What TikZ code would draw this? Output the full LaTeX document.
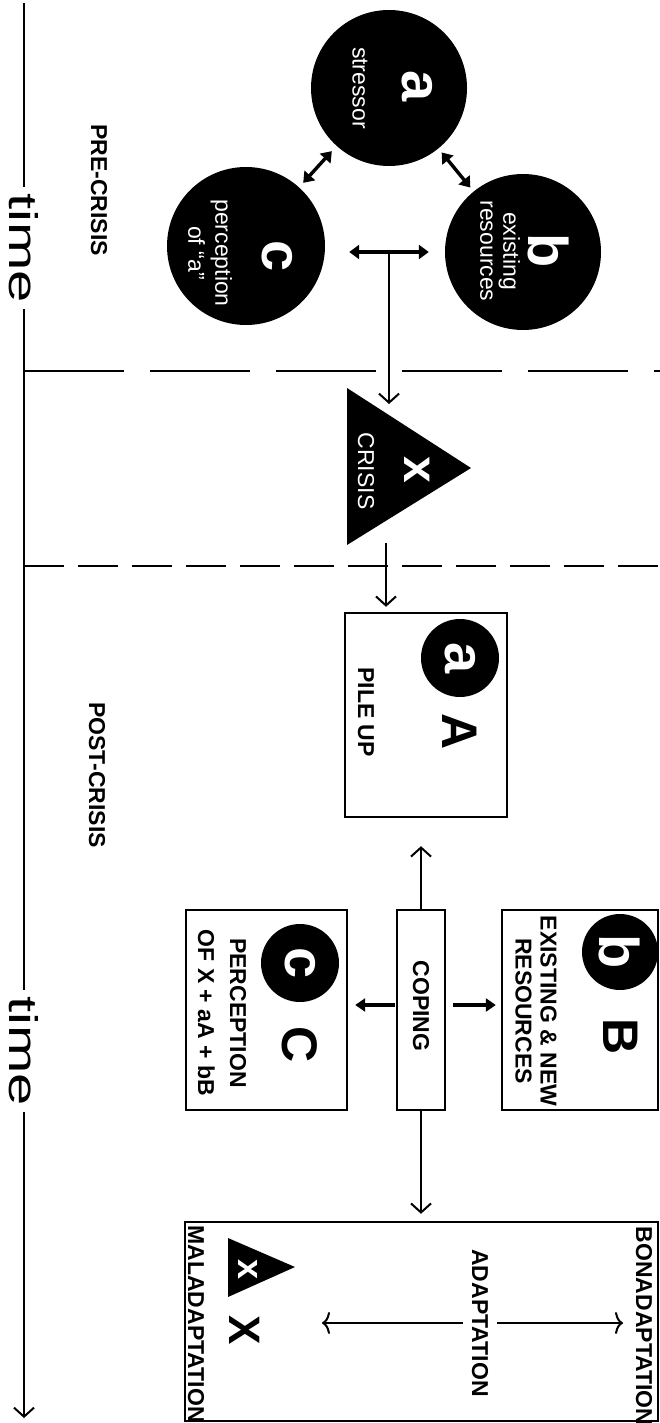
\documentclass[tikz,border=0pt]{standalone}
\usepackage{fontspec}
\setmainfont{Liberation Sans}
\usetikzlibrary{arrows.meta}
\begin{document}
\begin{tikzpicture}[x=1pt,y=-1pt,
  rt/.style={rotate=-90, inner sep=0pt},
  lab/.style={rt, font=\bfseries\fontsize{23}{26}\selectfont, align=center},
  wsmall/.style={rt, text=white, font=\fontsize{23}{25}\selectfont, align=center},
  bigw/.style={rt, text=white, font=\bfseries\fontsize{56}{56}\selectfont},
  bigk/.style={rt, font=\bfseries\fontsize{50}{50}\selectfont},
  blk/.style={circle, fill=black, inner sep=0pt},
  boxx/.style={draw, line width=2.4pt, inner sep=0pt},
  thinarr/.style={line width=2pt, -{Straight Barb[length=9pt,width=20pt,line width=2pt]}},
  dblarr/.style={line width=3.4pt, {Triangle[length=10pt,width=14pt]}-{Triangle[length=10pt,width=14pt]}},
  copearr/.style={line width=3.5pt, -{Triangle[length=10pt,width=13pt]}},
  adarr/.style={line width=2pt, -{Computer Modern Rightarrow[length=8pt,width=22pt,line width=2pt]}},
  timelab/.style={rt, font=\fontsize{40}{40}\selectfont, fill=white, inner xsep=4pt, inner ysep=2pt, xscale=1.45},
  dashA/.style={line width=2.6pt, dash pattern=on 100pt off 26pt},
  dashB/.style={line width=2.6pt, dash pattern=on 40pt off 14pt}
]
\useasboundingbox (0,0) rectangle (660,1423);

% time axis
\coordinate (ttop) at (24,3);
\coordinate (tbot) at (24,1418);
\draw[thinarr] (ttop) -- (tbot);
\node[timelab] (time1) at (24,248) {time};
\node[timelab] (time2) at (24,1051) {time};

% phase separators
\coordinate (d1l) at (24,371);
\coordinate (d1r) at (660,371);
\coordinate (d2l) at (24,566);
\coordinate (d2r) at (660,566);
\draw[dashA] (d1l) -- (d1r);
\draw[dashB] (d2l) -- (d2r);

\node[lab] (pre) at (99,190) {PRE-CRISIS};
\node[lab] (post) at (97,775) {POST-CRISIS};

% pre-crisis circles
\node[blk, minimum size=156pt] (ca) at (389,88) {};
\node[blk, minimum size=156pt] (cb) at (523,252) {};
\node[blk, minimum size=158pt] (cc) at (246,246) {};
\node[bigw] (la) at (417,86) {a};
\node[wsmall] (sa) at (360,88) {stressor};
\node[bigw] (lb) at (549,251) {b};
\node[wsmall, font=\fontsize{23}{23}\selectfont] (sb) at (500,251) {existing\\resources};
\node[bigw] (lc) at (277,256) {c};
\node[wsmall, font=\fontsize{23}{27}\selectfont] (sc) at (210,253) {perception\\of “a”};

\draw[dblarr, shorten <=7pt, shorten >=6pt] (ca) -- (cc);
\draw[dblarr, shorten <=5pt, shorten >=5pt] (ca) -- (cb);
\coordinate (jn) at (389,252);
\draw[dblarr, shorten <=24pt, shorten >=16pt] (cc.east |- jn) -- (cb.west |- jn);

% crisis
\coordinate (t1) at (347,388);
\coordinate (t2) at (471,468);
\coordinate (t3) at (347,545);
\fill (t1) -- (t2) -- (t3) -- cycle;
\node[rt, text=white, font=\bfseries\fontsize{48}{48}\selectfont] (lx) at (417,470) {x};
\node[wsmall] (crisis) at (366,471) {CRISIS};
\coordinate (xin) at (389,404);
\draw[thinarr] (jn) -- (xin);

% pile up
\node[boxx, minimum width=162pt, minimum height=204pt] (boxA) at (426,715) {};
\coordinate (xout) at (386,543);
\draw[thinarr, shorten >=5pt] (xout) -- (xout |- boxA.north);
\node[blk, minimum size=78pt] (ica) at (460,658) {};
\node[bigw] (lia) at (ica) {a};
\node[bigk] (lA) at (460,732) {A};
\node[lab] (pile) at (366,712) {PILE UP};

% coping row
\node[boxx, minimum width=48pt, minimum height=200pt] (cope) at (421,1010) {};
\node[lab] (copel) at (421,1006) {COPING};
\node[boxx, minimum width=161pt, minimum height=200pt] (boxC) at (266.5,1010) {};
\node[boxx, minimum width=156pt, minimum height=200pt] (boxB) at (580,1010) {};

\node[blk, minimum size=78pt] (icc) at (300,963) {};
\node[bigw] (lic) at (icc) {c};
\node[bigk] (lC) at (300,1045) {C};
\node[lab, font=\bfseries\fontsize{23}{32}\selectfont] (perc) at (222,1013) {PERCEPTION\\OF X + aA + bB};

\node[blk, minimum size=76pt] (icb) at (620,952) {};
\node[bigw] (lib) at (icb) {b};
\node[bigk] (lB) at (621,1037) {B};
\node[lab, font=\bfseries\fontsize{23}{25}\selectfont] (res) at (536,1011) {EXISTING \& NEW\\RESOURCES};

\draw[thinarr, shorten >=28pt] (cope.north) -- (cope.north |- boxA.south);
\coordinate (cy) at (421,1005);
\draw[copearr, shorten <=1pt, shorten >=7pt] (cope.west |- cy) -- (boxC.east |- cy);
\draw[copearr, shorten <=7pt, shorten >=5pt] (cope.east |- cy) -- (boxB.west |- cy);

% outcome
\node[boxx, minimum width=473pt, minimum height=199pt] (boxF) at (421.5,1321.5) {};
\draw[thinarr, shorten >=7pt] (cope.south) -- (cope.south |- boxF.north);
\coordinate (s1) at (228,1238);
\coordinate (s2) at (295,1267);
\coordinate (s3) at (228,1297);
\fill (s1) -- (s2) -- (s3) -- cycle;
\node[rt, text=white, font=\bfseries\fontsize{36}{36}\selectfont] (lsx) at (248,1269) {x};
\node[bigk, font=\bfseries\fontsize{44}{44}\selectfont] (lX) at (245,1330) {X};
\node[lab] (mal) at (196,1324) {MALADAPTATION};
\node[lab] (bon) at (644,1326) {BONADAPTATION};
\coordinate (ad) at (480,1323);
\coordinate (ml) at (322,1323);
\coordinate (mr) at (623,1323);
\draw[adarr] (ad) -- (ml);
\draw[adarr] (ad) -- (mr);
\node[lab, fill=white, inner ysep=9pt] (adapt) at (ad) {ADAPTATION};
\end{tikzpicture}
\end{document}
